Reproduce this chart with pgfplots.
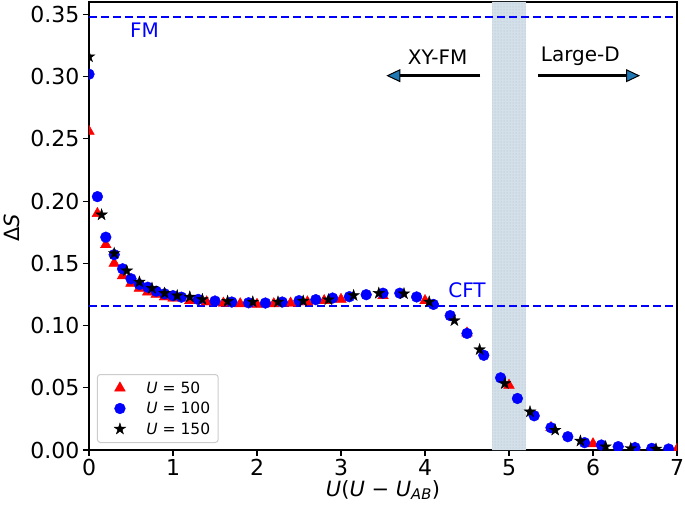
\documentclass[border=0pt]{standalone}
\usepackage{fontspec}
\setmainfont{DejaVu Sans}
\usepackage{pgfplots}
\usepackage{pgfplotstable}
\pgfplotsset{compat=1.18}
\usetikzlibrary{arrows.meta,patterns}
\definecolor{cz}{RGB}{31,119,180}
\definecolor{bandc}{RGB}{212,224,233}
\definecolor{bandd}{RGB}{170,182,195}
\pgfdeclareplotmark{fstar}{%
  \pgfpathmoveto{\pgfpointpolar{90}{\pgfplotmarksize}}%
  \pgfpathlineto{\pgfpointpolar{126}{0.382\pgfplotmarksize}}%
  \pgfpathlineto{\pgfpointpolar{162}{\pgfplotmarksize}}%
  \pgfpathlineto{\pgfpointpolar{198}{0.382\pgfplotmarksize}}%
  \pgfpathlineto{\pgfpointpolar{234}{\pgfplotmarksize}}%
  \pgfpathlineto{\pgfpointpolar{270}{0.382\pgfplotmarksize}}%
  \pgfpathlineto{\pgfpointpolar{306}{\pgfplotmarksize}}%
  \pgfpathlineto{\pgfpointpolar{342}{0.382\pgfplotmarksize}}%
  \pgfpathlineto{\pgfpointpolar{18}{\pgfplotmarksize}}%
  \pgfpathlineto{\pgfpointpolar{54}{0.382\pgfplotmarksize}}%
  \pgfpathclose
  \pgfusepathqfillstroke
}
\pgfplotstableread{
x y
0 0.256
0.1 0.190
0.2 0.165
0.3 0.150
0.4 0.140
0.5 0.134
0.6 0.130
0.7 0.127
0.8 0.125
0.9 0.123
1.0 0.122
1.2 0.120
1.4 0.119
1.6 0.118
1.8 0.1175
2.0 0.117
2.2 0.1175
2.4 0.118
2.6 0.119
2.8 0.120
3.0 0.121
3.5 0.124
4.0 0.120
4.5 0.094
5.0 0.052
5.5 0.018
6.0 0.005
6.5 0.0015
7.0 0.0005
}\tabA
\pgfplotstableread{
x y
0 0.302
0.1 0.2036
0.2 0.171
0.3 0.157
0.4 0.1456
0.5 0.1376
0.6 0.133
0.7 0.1308
0.8 0.1276
0.9 0.1255
1.0 0.124
1.1 0.1228
1.3 0.121
1.5 0.1197
1.7 0.1189
1.9 0.1183
2.1 0.1181
2.3 0.1189
2.5 0.1200
2.7 0.1208
2.9 0.1221
3.1 0.1232
3.3 0.1248
3.5 0.126
3.7 0.126
3.9 0.123
4.1 0.117
4.3 0.108
4.5 0.0937
4.7 0.0761
4.9 0.058
5.1 0.0414
5.3 0.0275
5.5 0.0179
5.7 0.0107
5.9 0.0059
6.1 0.004
6.3 0.0027
6.5 0.0019
6.7 0.0013
6.9 0.0008
}\tabB
\pgfplotstableread{
x y
0 0.316
0.15 0.189
0.3 0.158
0.45 0.144
0.6 0.135
0.75 0.130
0.9 0.126
1.05 0.124
1.2 0.123
1.35 0.121
1.65 0.1195
1.95 0.119
2.25 0.119
2.55 0.1197
2.85 0.1208
3.15 0.1242
3.45 0.126
3.75 0.1256
4.05 0.119
4.35 0.104
4.65 0.0807
4.95 0.0534
5.25 0.0307
5.55 0.016
5.85 0.0072
6.15 0.0027
6.45 0.0013
6.75 0.0008
}\tabC
\begin{document}
\begin{tikzpicture}
\begin{axis}[name=ax,
  scale only axis, width=588pt, height=448pt,
  xmin=0, xmax=7, ymin=0, ymax=0.36,
  xtick={0,1,2,3,4,5,6,7},
  ytick={0,0.05,0.10,0.15,0.20,0.25,0.30,0.35},
  /pgf/number format/assume math mode=true,
  yticklabel style={/pgf/number format/.cd, fixed, fixed zerofill, precision=2},
  tick label style={font=\fontsize{22}{26}\selectfont},
  tick pos=left, tick align=outside,
  major tick length=6pt,
  every tick/.style={black, line width=1.1pt},
  axis line style={line width=1.1pt},
  clip marker paths=true,
  xlabel={\textit{U}(\textit{U} − \textit{U}\textsubscript{\textit{AB}})},
  ylabel={Δ\textit{S}},
  label style={font=\fontsize{21}{25}\selectfont},
  xlabel style={at={(axis description cs:0.5,-0.089)}, anchor=center},
  ylabel style={at={(axis description cs:-0.131,0.496)}, anchor=center, rotate=0},
  legend style={at={(0.0135,0.0156)}, anchor=south west, draw={rgb,255:red,204;green,204;blue,204},
    line width=1pt,
    rounded corners=3pt, font=\fontsize{15.5}{18}\selectfont, row sep=3.5pt, inner xsep=6pt, inner ysep=5pt,
    /tikz/every odd column/.append style={column sep=0pt}},
  legend cell align=left,
  legend image code/.code={\path (0pt,0pt) (40pt,0pt); \draw[#1, line width=0.4pt] plot coordinates {(16pt,0pt)};},
]
\addplot[draw=none, fill=bandc, forget plot] coordinates {(4.8,0) (5.2,0) (5.2,0.36) (4.8,0.36)} \closedcycle;
\addplot[draw=none, pattern=dots, pattern color=bandd, forget plot] coordinates {(4.8,0) (5.2,0) (5.2,0.36) (4.8,0.36)} \closedcycle;
\addplot[blue, dash pattern=on 8pt off 4pt, line width=1.9pt, forget plot] coordinates {(0,0.348) (7,0.348)};
\addplot[blue, dash pattern=on 8pt off 4pt, line width=1.9pt, forget plot] coordinates {(0,0.1157) (7,0.1157)};
\addplot[only marks, mark=triangle*, mark size=6.2pt, red, mark options={fill=red}] table[x=x,y=y] {\tabA};
\addlegendentry{\textit{U} = 50}
\addplot[only marks, mark=*, mark size=5.4pt, blue, mark options={fill=blue}] table[x=x,y=y] {\tabB};
\addlegendentry{\textit{U} = 100}
\addplot[only marks, mark=fstar, mark size=6pt, black, mark options={fill=black}] table[x=x,y=y] {\tabC};
\addlegendentry{\textit{U} = 150}
\node[blue, font=\fontsize{20}{24}\selectfont] at (axis cs:0.66,0.3375) {FM};
\node[blue, font=\fontsize{20}{24}\selectfont] at (axis cs:4.5,0.1286) {CFT};
\node[black, font=\fontsize{20}{24}\selectfont] at (axis cs:4.15,0.316) {XY-FM};
\node[black, font=\fontsize{20}{24}\selectfont] at (axis cs:5.85,0.3166) {Large-D};
\draw[black, line width=2.5pt, -{Triangle[length=14pt,width=13pt,fill=cz,line width=1pt]}] (axis cs:4.66,0.3008) -- (axis cs:3.54,0.3008);
\draw[black, line width=2.5pt, -{Triangle[length=14pt,width=13pt,fill=cz,line width=1pt]}] (axis cs:5.35,0.3008) -- (axis cs:6.56,0.3008);
\end{axis}
\pgfresetboundingbox
\path ([xshift=-89pt,yshift=-61pt]ax.south west) rectangle ([xshift=8pt,yshift=2pt]ax.north east);
\end{tikzpicture}
\end{document}
